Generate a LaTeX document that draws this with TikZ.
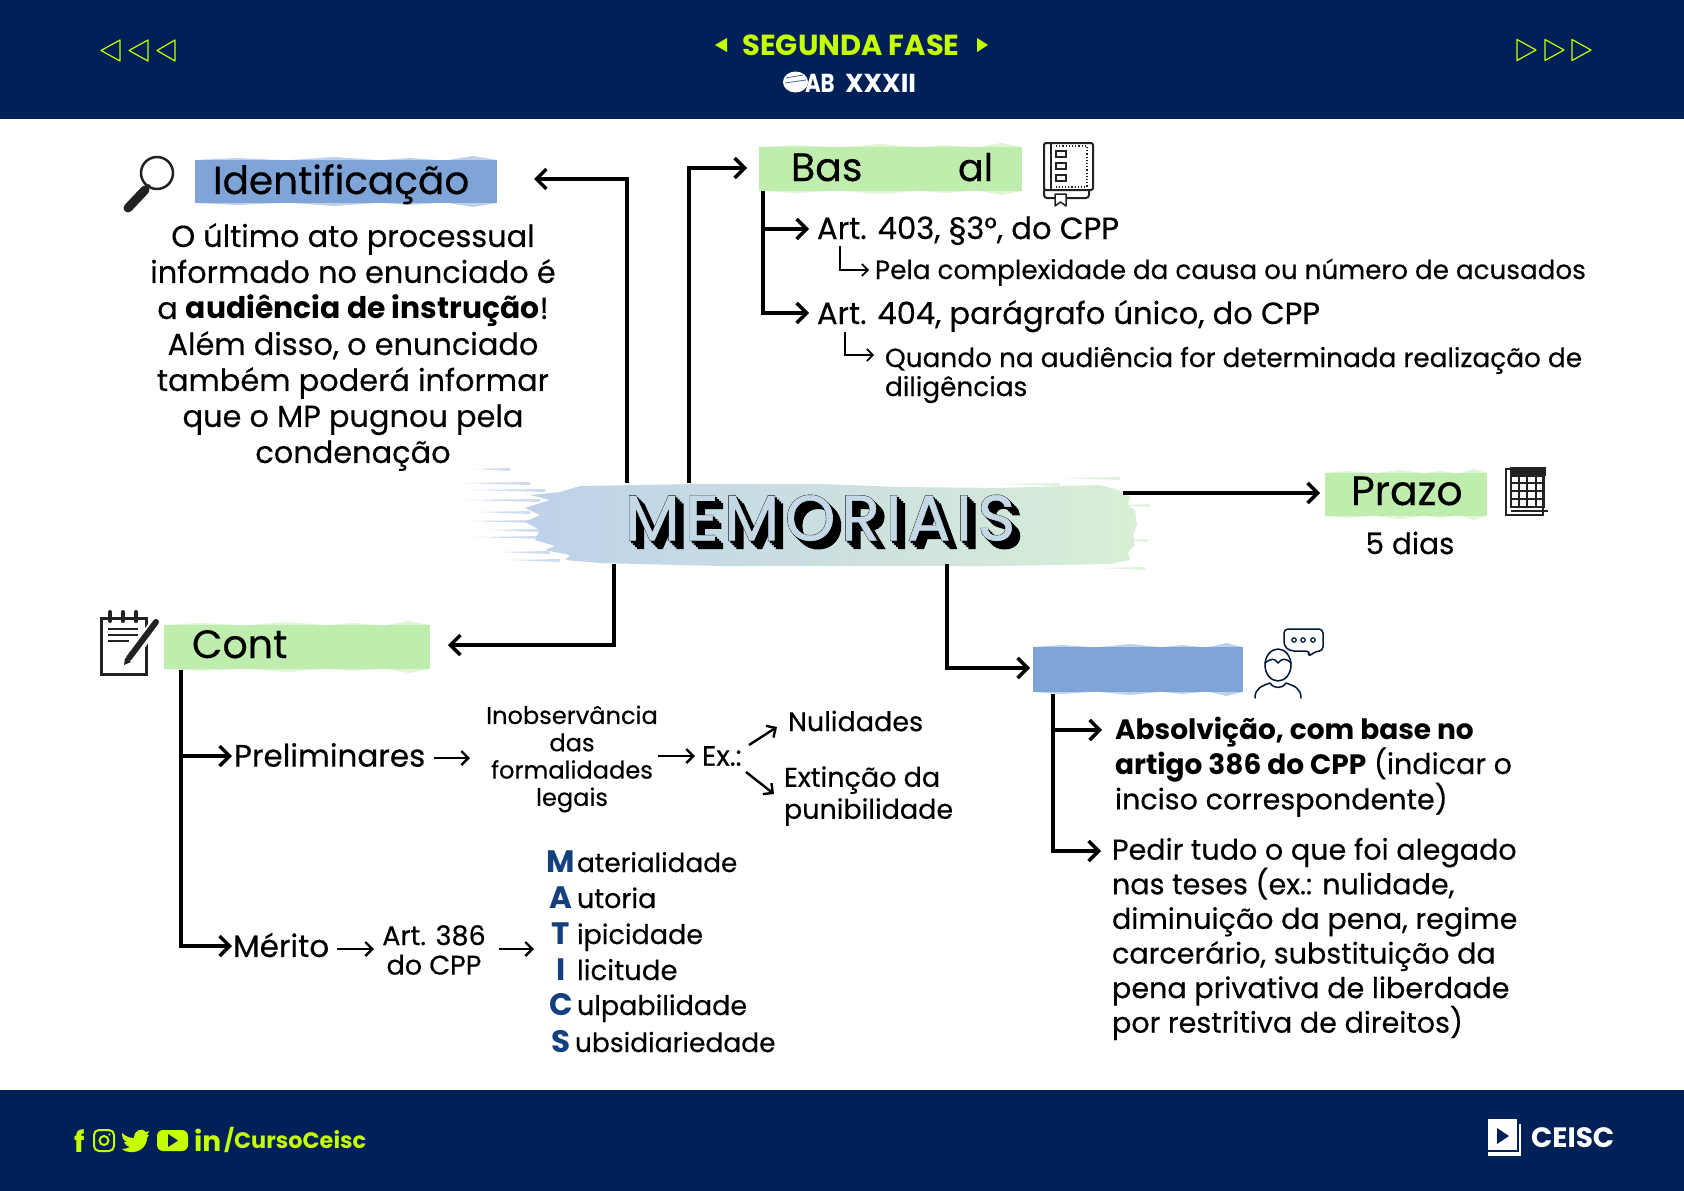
\documentclass[tikz,border=0pt]{standalone}
\usepackage{fontspec}
\setmainfont{Poppins}[UprightFeatures={FakeBold=0.4}]
\newfontfamily\memfont[FakeBold=2.0,LetterSpace=9,Kerning=Off]{Poppins}
\newfontfamily\memfront[FakeBold=0.9,LetterSpace=9,Kerning=Off]{Poppins}
\usetikzlibrary{arrows.meta,calc}
\definecolor{navy}{HTML}{002157}
\definecolor{lime}{HTML}{C6FF00}
\definecolor{brushgreen}{HTML}{BEEDAE}
\definecolor{brushblue}{HTML}{7FA4D7}
\definecolor{letterblue}{HTML}{15407F}
\definecolor{memleft}{HTML}{BFD1EA}
\definecolor{memright}{HTML}{D8EFD6}
\definecolor{icon}{HTML}{222222}
\newcommand{\fsz}[2]{\fontsize{#1}{#2}\selectfont}
\tikzset{
 x=1pt,y=-1pt,
 txt/.style={anchor=base west,inner sep=0,outer sep=0,text=black},
 ctr/.style={anchor=center,inner sep=0,outer sep=0,text=black,align=center},
 lft/.style={anchor=west,inner sep=0,outer sep=0,text=black,align=left},
 bigarrow/.style={line width=3.4pt,-{Straight Barb[length=10pt,width=20pt,line width=3.4pt]}},
 midarrow/.style={line width=2.4pt,-{Straight Barb[length=7pt,width=14pt,line width=2.4pt]}},
 thinarrow/.style={line width=1.7pt,-{Straight Barb[length=6pt,width=12pt,line width=1.7pt]}},
 iconline/.style={draw=icon,line width=2pt,line cap=round,line join=round},
}
\newcommand{\brushbox}[6]{%
 \pgfmathsetmacro{\bw}{#4-#2}\pgfmathsetmacro{\bh}{#5-#3}%
 \node[fill=#6,inner sep=0,outer sep=0,minimum width=\bw pt,minimum height=\bh pt,anchor=north west] (#1) at (#2,#3) {};%
 \foreach \f/\g/\e in {0/.28/2,.32/.6/3,.62/.8/2,.84/1/4}{%
  \fill[#6,opacity=.5] ({#2+\f*\bw},#3) -- ({#2+(\f+\g)/2*\bw},{#3-\e}) -- ({#2+\g*\bw},#3) -- cycle;
  \fill[#6,opacity=.5] ({#2+\f*\bw},#5) -- ({#2+(\f+\g)/2*\bw},{#5+\e}) -- ({#2+\g*\bw},#5) -- cycle;
 }%
}
\newcommand{\shadowlayer}[1]{\rlap{\hspace{#1pt}\raisebox{-#1pt}{\memfont MEMORIAIS}}}
\begin{document}
\begin{tikzpicture}
\useasboundingbox (0,0) rectangle (1684,1191);
\fill[white] (0,0) rectangle (1684,1191);
% bands
\fill[navy] (0,0) rectangle (1684,119);
\fill[navy] (0,1090) rectangle (1684,1191);
% header triangles
\foreach \a/\b in {120/101,148/129,175/157}
  \draw[lime,line width=1.2pt,line join=round] (\a,40) -- (\a,61) -- (\b,50.5) -- cycle;
\foreach \a/\b in {1517/1536,1545/1564,1572/1591}
  \draw[lime,line width=1.2pt,line join=round] (\a,39.5) -- (\a,60.5) -- (\b,50) -- cycle;
\fill[lime] (727,38) -- (727,52) -- (715,45) -- cycle;
\fill[lime] (977,38) -- (977,52) -- (988,45) -- cycle;
\node[ctr,text=lime,font=\fsz{29}{34}\bfseries] (fase) at (851,45) {SEGUNDA FASE};
% OAB logo
\fill[white] (795.5,82) ellipse (12.5 and 10.5);
\draw[navy!70,line width=.8pt] (786,78) -- (803,75) (785,83) -- (806,80);
\node[txt,text=white,font=\fsz{26}{30}\bfseries] (oab) at (805,92) {\scalebox{0.82}[1]{AB}};
\node[txt,text=white,font=\fsz{26}{30}\bfseries] (xxxii) at (845,92) {XXXII};
% Memoriais brush
\shade[left color=memleft,right color=memright]
 (560,492) -- (580,486) -- (700,484) -- (820,484) -- (900,487) -- (1000,488) -- (1100,485) -- (1118,490) -- (1130,497) -- (1128,505) -- (1135,510) -- (1137,525) -- (1133,535) -- (1135,545) -- (1128,552) -- (1130,560) -- (1110,564) -- (1000,566) -- (800,566) -- (720,566) -- (600,563) -- (565,560) -- (570,555) -- (545,550) -- (555,546) -- (535,540) -- (540,530) -- (525,522) -- (540,515) -- (525,508) -- (550,500) -- (530,495) -- cycle;
\foreach \p/\q/\r in {475/510/469,462/530/483,470/545/490,465/540/500,480/530/512,470/535/521,490/540/530,475/545/537,500/550/552,510/560/560}
  \fill[memleft,opacity=.75] (\p,\r) -- (\q,{\r-1}) -- (\q,{\r+2}) -- cycle;
\foreach \p/\q/\r in {1060/1120/478,1000/1060/484,1120/1150/505,1125/1148/540,1100/1145/568}
  \fill[memright,opacity=.8] (\p,\r) -- (\q,{\r-1}) -- (\q,{\r+2}) -- cycle;
\node[ctr,font=\fsz{64}{70}] (mem) at (820,522) {%
 \shadowlayer{0}\shadowlayer{2}\shadowlayer{4}\shadowlayer{6}\shadowlayer{8}%
 \memfront\textcolor{memleft!75!memright}{MEMORIAIS}};
% boxes
\brushbox{identbox}{195}{160}{497}{203}{brushblue}
\brushbox{basebox}{759}{147}{1022}{191}{brushgreen}
\brushbox{prazobox}{1325}{473}{1487}{516}{brushgreen}
\brushbox{contbox}{164}{625}{430}{669}{brushgreen}
\brushbox{bluebox}{1033}{647}{1243}{692}{brushblue}
% box titles
\node[txt,font=\fsz{39}{44}] (identtxt) at (213,194) {Identificação};
\node[txt,font=\fsz{39.5}{44}] (bastxt) at (791,181) {Bas};
\node[txt,font=\fsz{38}{44}] (altxt) at (958,181) {al};
\node[txt,font=\fsz{41}{44}] (prazotxt) at (1351,505) {Prazo};
\node[txt,font=\fsz{39.5}{44}] (conttxt) at (192,658) {Cont};
% named points of connectors
\coordinate (m1) at (627,483);
\coordinate (m2) at (689,483);
\coordinate (m3) at (614,564);
\coordinate (m4) at (947,564);
\coordinate (m5) at (1123,493);
\coordinate (identtip) at (534,179);
\coordinate (basetip) at (747,168);
\coordinate (prazotip) at (1320,493);
\coordinate (conttip) at (448,645);
\coordinate (bluetip) at (1030,668);
\draw[bigarrow] (m1) |- (identtip);
\draw[bigarrow] (m2) |- (basetip);
\draw[bigarrow] (m5) -- (prazotip);
\draw[bigarrow] (m3) |- (conttip);
\draw[bigarrow] (m4) |- (bluetip);
% left paragraph
\node[ctr,font=\fsz{30.4}{36}] (para) at (353,347) {O último ato processual\\informado no enunciado é\\a {\fontsize{29.8}{36}\selectfont\textbf{audiência de instrução}}!\\Além disso, o enunciado\\também poderá informar\\que o MP pugnou pela\\condenação};
% base legal
\coordinate (b0) at (763,191);
\coordinate (b1) at (809,229);
\coordinate (b2) at (809,313);
\draw[bigarrow] (b0) |- (b2);
\draw[bigarrow] (b0 |- b1) -- (b1);
\node[txt,font=\fsz{30.7}{36}] (art403) at (817,239) {Art. 403, §3°, do CPP};
\node[txt,font=\fsz{26.2}{30}] (pela) at (875,279) {Pela complexidade da causa ou número de acusados};
\node[txt,font=\fsz{30.6}{36}] (art404) at (817,324) {Art. 404, parágrafo único, do CPP};
\node[lft,font=\fsz{26.35}{29}] (quando) at (885,375) {Quando na audiência for determinada realização de\\diligências};
\coordinate (s1a) at (840,246);
\coordinate (s1b) at (869,270);
\coordinate (s2a) at (845,332);
\coordinate (s2b) at (874,355);
\draw[thinarrow] (s1a) |- (s1b);
\draw[thinarrow] (s2a) |- (s2b);
% prazo
\node[ctr,font=\fsz{29.5}{36}] (dias) at (1410,543) {5 dias};
% cont branch
\coordinate (c0) at (181,670);
\coordinate (c1) at (232,756);
\coordinate (c2) at (232,946);
\draw[bigarrow] (c0) |- (c2);
\draw[bigarrow] (c0 |- c1) -- (c1);
\node[lft,font=\fsz{31}{36}] (prelim) at (234,755) {Preliminares};
\node[lft,font=\fsz{31}{36}] (merito) at (233,945) {Mérito};
\node[ctr,font=\fsz{24.1}{27.3}] (inob) at (572,759) {Inobservância\\das\\formalidades\\legais};
\node[lft,font=\fsz{28}{30}] (ex) at (702,756) {Ex.:};
\node[lft,font=\fsz{27}{32}] (nul) at (788,721) {Nulidades};
\node[lft,font=\fsz{27}{32}] (ext) at (784,796) {Extinção da\\punibilidade};
\node[ctr,font=\fsz{27}{29.5}] (art386) at (434,950) {Art. 386\\do CPP};
\coordinate (e1) at (434,758);\coordinate (e2) at (470,758);
\coordinate (e3) at (658,756);\coordinate (e4) at (695,756);
\coordinate (e5) at (749,745);\coordinate (e6) at (777,727);
\coordinate (e7) at (746,772);\coordinate (e8) at (774,794);
\coordinate (e9) at (337,949);\coordinate (e10) at (374,949);
\coordinate (e11) at (499,949);\coordinate (e12) at (534,949);
\foreach \a/\b in {e1/e2,e3/e4,e5/e6,e7/e8,e9/e10,e11/e12}
  \draw[midarrow] (\a) -- (\b);
% MATICS
\foreach \n/\l/\t/\y/\s/\xx in {a/M/aterialidade/872/26.3/577,b/A/utoria/908/27/577,c/T/ipicidade/944/27/577,d/I/licitude/980/27.6/577,e/C/ulpabilidade/1015/27/577,f/S/ubsidiariedade/1052/26.5/575}{
  \node[anchor=base,inner sep=0,text=letterblue,font=\fsz{31}{36}\bfseries] (ml\n) at (561,\y) {\l};
  \node[txt,font=\fsz{\s}{32}] (mt\n) at (\xx,\y) {\t};
}
% right branch
\coordinate (d0) at (1053,694);
\coordinate (d1) at (1102,730);
\coordinate (d2) at (1101,851);
\draw[bigarrow] (d0) |- (d2);
\draw[bigarrow] (d0 |- d1) -- (d1);
\node[lft,font=\fsz{28.6}{34.4}] (abs) at (1115,767) {{\fontsize{28}{34.4}\selectfont\textbf{Absolvição, com base no}}\\{\fontsize{28}{34.4}\selectfont\textbf{artigo 386 do CPP}} (indicar o\\inciso correspondente)};
\node[lft,font=\fsz{28.6}{34.6}] (pedir) at (1112,939) {Pedir tudo o que foi alegado\\nas teses (ex.: nulidade,\\diminuição da pena, regime\\carcerário, substituição da\\pena privativa de liberdade\\por restritiva de direitos)};
% magnifier
\draw[icon,line width=2.5pt] (157,173) circle (16);
\draw[icon,line width=9pt,line cap=round] (128,208) -- (145,190);
\draw[icon,line width=3pt] (145,190) -- (150,185);
% book
\draw[iconline,rounded corners=2pt] (1044,190) -- (1044,143) -- (1093,143) -- (1093,190) -- cycle;
\draw[iconline,rounded corners=3pt] (1044,190) -- (1044,198) -- (1089,198) -- (1089,190);
\draw[iconline,line width=1.5pt] (1051,143) -- (1051,190);
\draw[icon,line width=1.3pt] (1056,151) rectangle (1066,157) (1056,163) rectangle (1066,169) (1056,175) rectangle (1066,181);
\draw[icon,line width=1.2pt,dash pattern=on 1.2pt off 2pt] (1056,146) -- (1087,146) -- (1087,187) -- (1056,187);
\draw[iconline,line width=1.5pt,fill=white] (1055,194) -- (1066,194) -- (1066,206) -- (1060.5,202) -- (1055,206) -- cycle;
% calendar
\draw[draw=icon,line width=2pt,fill=white] (1506,469) rectangle (1543,515);
\fill[icon] (1510,467) rectangle (1546,476);
\draw[icon,line width=1.2pt] (1511,476) rectangle (1544,507);
\foreach \u in {1519,1527,1536} \draw[icon,line width=1.2pt] (\u,476) -- (\u,507);
\foreach \v in {483,491,499} \draw[icon,line width=1.2pt] (1511,\v) -- (1544,\v);
\draw[icon,line width=1.5pt] (1511,511) -- (1548,511);
% notepad
\draw[icon,line width=3pt,fill=white] (101,618) rectangle (146,674);
\foreach \u in {110,122.5,136} \draw[icon,line width=4pt,line cap=round] (\u,612) -- (\u,621);
\draw[icon,line width=2pt] (108,629) -- (138,629) (108,635) -- (138,635) (108,641) -- (129,641);
\draw[white,line width=11pt] (157,621) -- (128,662);
\draw[icon,line width=6pt,line cap=round] (156,622) -- (129,658);
\fill[icon] (124,665) -- (125,658) -- (131,662) -- cycle;
% person + bubble
\draw[iconline,line width=1.5pt,draw=navy!70!black] (1278,665) ellipse (13 and 16);
\draw[iconline,line width=1.5pt,draw=navy!70!black] (1265,663) .. controls (1272,658) and (1274,658) .. (1278,663) .. controls (1282,658) and (1286,658) .. (1291,663);
\draw[iconline,line width=1.5pt,draw=navy!70!black] (1255,698) .. controls (1255,688) and (1262,686) .. (1270,683) .. controls (1274,689) and (1282,689) .. (1286,683) .. controls (1294,686) and (1301,688) .. (1301,698);
\draw[iconline,line width=1.5pt,draw=navy!70!black,rounded corners=4pt] (1284,629) -- (1323,629) -- (1323,651) -- (1316,651) -- (1308,657) -- (1310,651) -- (1290,651) -- (1284,646) -- cycle;
\foreach \u in {1294,1303,1313} \draw[navy!70!black,line width=1.2pt] (\u,640) circle (2.2);
% footer icons
\node[ctr,text=lime,font=\fsz{29}{32}\bfseries] (ff) at (80,1141) {f};
\draw[lime,line width=2pt,rounded corners=5pt] (94,1130) rectangle (114,1151);
\draw[lime,line width=2pt] (104,1140.5) circle (4.5);
\fill[lime] (109.5,1134.5) circle (1.2);
\fill[lime] (122,1133) .. controls (128,1138) and (131,1138) .. (134,1138) .. controls (134,1130) and (142,1127) .. (146,1132) -- (149,1131) -- (147,1135) -- (149,1135) -- (147,1138) .. controls (147,1146) and (140,1153) .. (130,1152) .. controls (127,1152) and (124,1151) .. (122,1149) .. controls (125,1149) and (128,1148) .. (130,1147) .. controls (126,1146) and (125,1144) .. (124,1142) -- (127,1142) .. controls (124,1141) and (122,1138) .. (122,1133) -- cycle;
\fill[lime,rounded corners=6pt] (157,1130) rectangle (188,1151);
\fill[navy] (168,1134) -- (168,1147) -- (178,1140.5) -- cycle;
\node[txt,text=lime,font=\fsz{28}{32}\bfseries] (lin) at (194,1151) {in};
\node[txt,text=lime,font=\fsz{22.4}{30}\bfseries] (curso) at (224,1148) {/CursoCeisc};
% CEISC logo
\fill[white] (1488,1119) -- (1517,1119) -- (1517,1150) -- (1488,1150) -- cycle;
\fill[white] (1488,1152) rectangle (1521,1156);
\fill[white] (1519,1124) rectangle (1521,1156);
\fill[navy] (1497,1128) -- (1497,1144) -- (1509,1136) -- cycle;
\node[txt,text=white,font=\fsz{28}{36}\bfseries] (ceisc) at (1531,1147) {CEISC};
\end{tikzpicture}
\end{document}
